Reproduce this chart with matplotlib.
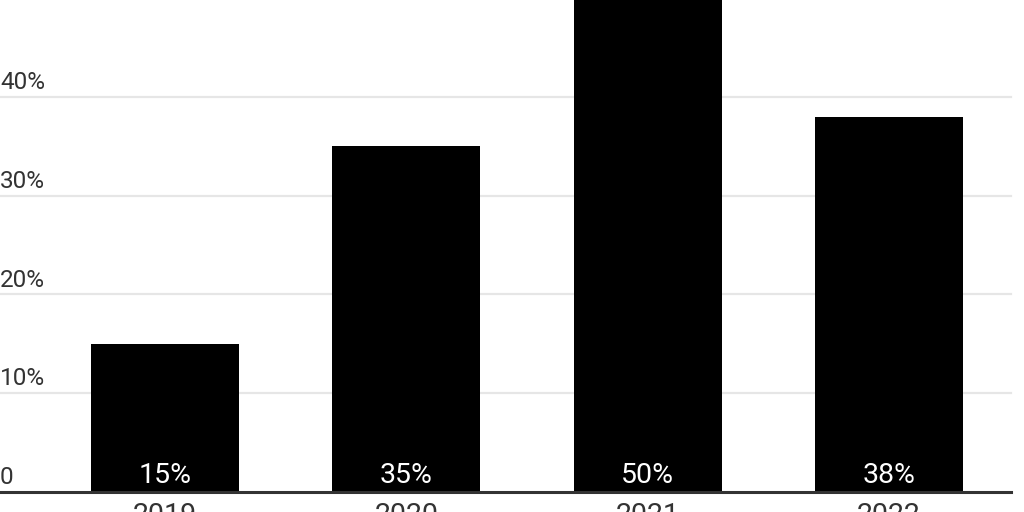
import matplotlib.pyplot as plt

years = ["2019", "2020", "2021", "2022"]
shares = [15, 35, 50, 38]
y_ticks = [0, 10, 20, 30, 40]
y_tick_labels = ["0", "10%", "20%", "30%", "40%"]

plt.rcParams["font.family"] = ["Roboto", "DejaVu Sans"]

fig = plt.figure(figsize=(10.24, 5.12), dpi=100)
ax = fig.add_axes([0, 0, 1, 1])

# data-space limits so that the axes fill the whole canvas
x_left = -165 / 241.3
x_right = (1024 - 165) / 241.3
ax.set_xlim(x_left, x_right)
ax.set_ylim(-2.03, 49.82)

line_end = 1011 / 1024
for t in y_ticks[1:]:
    ax.axhline(t, xmin=0, xmax=line_end, color="#e6e6e6", lw=1.6, zorder=0)

x = range(len(years))
ax.bar(x, shares, width=148 / 241.3, color="black", zorder=2)

ax.axhline(0, xmin=0, xmax=line_end, color="#333333", lw=2.2, zorder=3)

for t, lab in zip(y_ticks, y_tick_labels):
    ax.text(x_left, t + 0.8, lab, ha="left", va="baseline", fontsize=17.5,
            color="#333333")

for xi, v in zip(x, shares):
    ax.text(xi, 0.9, f"{v}%", ha="center", va="baseline", fontsize=20.5,
            color="white", zorder=4)

for xi, yr in zip(x, years):
    ax.text(xi, -1.0, yr, ha="center", va="top", fontsize=20.5, color="#333333")

ax.axis("off")
fig.savefig("out.png", dpi=100)
